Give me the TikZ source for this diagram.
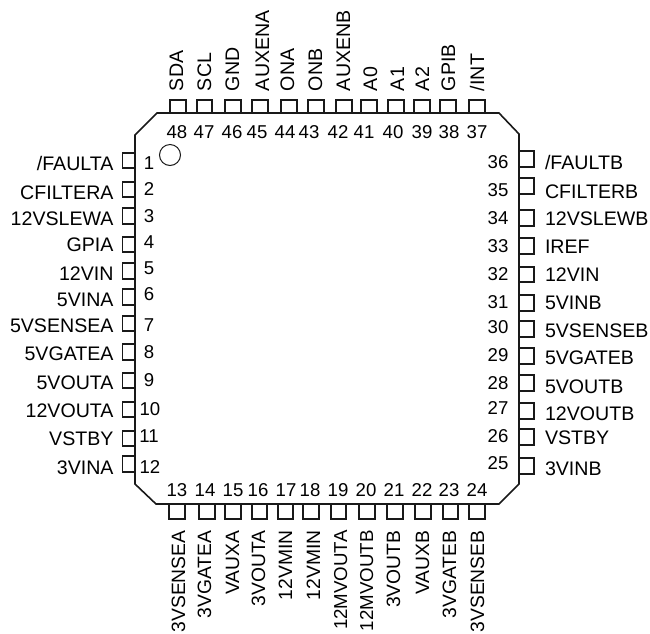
\documentclass[tikz,border=0pt]{standalone}
\usepackage{fontspec}
\setmainfont{Liberation Sans}
\tikzset{
  bodyline/.style={draw=black!90,line width=1.6pt,line join=miter},
  pinline/.style={draw=black!90,line width=1.1pt,line join=miter},
  txt/.style={inner sep=0pt,outer sep=0pt,text=black,text depth=0pt},
  lab/.style={txt,font=\fontsize{19.6}{21}\selectfont,text height=14pt},
  botlab/.style={txt,font=\fontsize{19.3}{21}\selectfont,text height=14pt},
  num/.style={txt,font=\fontsize{18.6}{20}\selectfont,text height=13pt},
}
\newcommand\narrowlab{\fontsize{18.7}{21}\selectfont}
\newcommand\LeftPin[6]{%
  \draw[pinline] (135,#2) -- (122.5,#2) -- (122.5,#3) -- (135,#3);
  \node[lab,anchor=east] (lab#1) at (113.5,#5) {#4};
  \node[num] (num#1) at (#6) {#1};}
\newcommand\RightPin[6]{%
  \draw[pinline] (519,#2) -- (534,#2) -- (534,#3) -- (519,#3);
  \node[lab,anchor=west] (lab#1) at (545,#5) {#4};
  \node[num] (num#1) at (#6) {#1};}
\newcommand\TopPin[6]{%
  \draw[pinline] (#2,113) -- (#2,100) -- (#3,100) -- (#3,113);
  \node[lab,rotate=90,anchor=west] (lab#1) at (#5,91) {#4};
  \node[num] (num#1) at (#6) {#1};}
\newcommand\BotPin[6]{%
  \draw[pinline] (#2,504) -- (#2,519) -- (#3,519) -- (#3,504);
  \node[botlab,rotate=90,anchor=east] (lab#1) at (#5,530.5) {#4};
  \node[num] (num#1) at (#6) {#1};}
\begin{document}
\begin{tikzpicture}[x=1pt,y=-1pt]
\useasboundingbox (0,0) rectangle (650,633);
\draw[bodyline] (135,135) -- (157,113) -- (499,113) -- (519,134) -- (519,484) -- (499,504) -- (156,504) -- (135,484) -- cycle;
\node[draw=black!90,line width=1pt,circle,minimum size=21pt,inner sep=0pt] (mark) at (170,155) {};
\LeftPin{1}{153}{168}{/FAULTA}{163}{149,163}
\LeftPin{2}{182}{197}{CFILTERA}{192}{149,189}
\LeftPin{3}{208}{224}{12VSLEWA}{218}{149,216}
\LeftPin{4}{237}{252}{GPIA}{244}{149,242}
\LeftPin{5}{263}{279}{12VIN}{273}{149,268}
\LeftPin{6}{289}{305}{5VINA}{299}{149,294}
\LeftPin{7}{316}{331}{5VSENSEA}{325}{149,325}
\LeftPin{8}{344}{360}{5VGATEA}{353}{149,352}
\LeftPin{9}{373}{388}{5VOUTA}{382}{149,380}
\LeftPin{10}{402}{417}{12VOUTA}{410}{150,409}
\LeftPin{11}{431}{446}{VSTBY}{438}{149,436}
\LeftPin{12}{456}{472}{3VINA}{467}{150,467}
\BotPin{13}{169}{185}{3VSENSEA}{178}{177,490}
\BotPin{14}{199}{215}{3VGATEA}{204}{205,490}
\BotPin{15}{225}{241}{VAUXA}{232}{233,490}
\BotPin{16}{252}{267}{3VOUTA}{258}{258,490}
\BotPin{17}{278}{293}{12VMIN}{285}{286,490}
\BotPin{18}{303}{319}{12VMIN}{313}{310,490}
\BotPin{19}{331}{346}{\narrowlab 12MVOUTA}{340}{338,490}
\BotPin{20}{359}{375}{\narrowlab 12MVOUTB}{366}{366,490}
\BotPin{21}{387}{403}{3VOUTB}{393}{394,490}
\BotPin{22}{415}{431}{VAUXB}{422}{422,490}
\BotPin{23}{443}{458}{3VGATEB}{449}{449,490}
\BotPin{24}{469}{485}{3VSENSEB}{477}{477,490}
\RightPin{25}{458}{474}{3VINB}{468}{498,463}
\RightPin{26}{429}{445}{VSTBY}{437}{498,436}
\RightPin{27}{403}{419}{12VOUTB}{413}{498,408}
\RightPin{28}{375}{391}{5VOUTB}{386}{498,383}
\RightPin{29}{348}{364}{5VGATEB}{357}{498,355}
\RightPin{30}{321}{337}{5VSENSEB}{330}{498,327}
\RightPin{31}{295}{311}{5VINB}{302}{498,302}
\RightPin{32}{267}{282}{12VIN}{274}{498,274}
\RightPin{33}{238}{254}{IREF}{246}{498,246}
\RightPin{34}{210}{226}{12VSLEWB}{218}{498,218}
\RightPin{35}{178}{194}{CFILTERB}{191}{498,190}
\RightPin{36}{151}{167}{/FAULTB}{162}{498,162}
\TopPin{37}{469}{485}{/INT}{477}{477,132}
\TopPin{38}{440}{456}{GPIB}{448}{449,132}
\TopPin{39}{414}{430}{A2}{422}{422,132}
\TopPin{40}{388}{404}{A1}{397}{393,132}
\TopPin{41}{361}{377}{A0}{370}{364,132}
\TopPin{42}{336}{352}{AUXENB}{343}{338,132}
\TopPin{43}{308}{324}{ONB}{315}{309,132}
\TopPin{44}{281}{297}{ONA}{287}{285,132}
\TopPin{45}{252}{268}{AUXENA}{262}{257,132}
\TopPin{46}{225}{241}{GND}{232}{232,132}
\TopPin{47}{197}{212}{SCL}{204}{204,132}
\TopPin{48}{170}{186}{SDA}{176}{177,132}
\end{tikzpicture}
\end{document}
